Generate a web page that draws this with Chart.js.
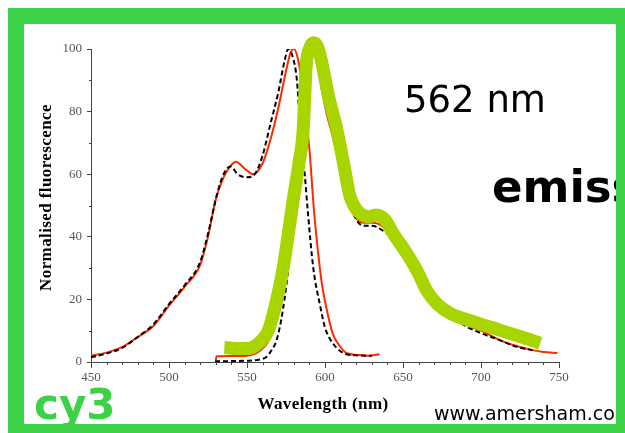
<!DOCTYPE html>
<html lang="en">
<head>
  <meta charset="UTF-8" />
  <title>Cy3 absorption and emission spectra</title>
  <script src="https://cdn.jsdelivr.net/npm/chart.js"></script>
  <style>
    html, body {
      margin: 0;
      padding: 0;
      background: #fff;
    }

    body {
      width: 625px;
      height: 433px;
      overflow: hidden;
      position: relative;
    }

    .frame {
      position: absolute;
      left: 8px;
      top: 8px;
      width: 592px;
      height: 400px;
      border-style: solid;
      border-color: #3cd248;
      border-width: 16px 9px 9px 16px;
      overflow: hidden;
      background: #fff;
    }

    canvas {
      position: absolute;
      left: 0;
      top: 0;
    }

    .note {
      position: absolute;
      font-family: 'DejaVu Sans', sans-serif;
      line-height: 1;
      white-space: nowrap;
    }

    .peak { left: 380px; top: 57px; font-size: 37px; color: #000; }
    .kind { left: 468px; top: 140px; font-size: 45px; font-weight: bold; color: #000; }
    .dye  { left: 10px; top: 360px; font-size: 42px; font-weight: bold; color: #3cd248; }
    .web  { left: 410px; top: 380px; font-size: 19px; color: #000; }
  </style>
</head>
<body>
  <div class="frame">
    <canvas id="spectra" width="592" height="400"></canvas>
    <div class="note peak">562 nm</div>
    <div class="note kind">emission</div>
    <div class="note dye">cy3</div>
    <div class="note web">www.amersham.com</div>
  </div>

  <script>
    // absorption, measured (solid red) and reference (dashed)
    const absWl   = [450, 460, 470, 480, 490, 500, 510, 520, 525, 530, 535, 540, 543, 548, 554, 560, 565, 570, 575, 578, 580, 583, 586, 590, 593, 596, 598, 601, 605, 610, 614, 622, 628, 635];
    const absRed  = [2, 3, 4.8, 8, 11.5, 18, 24, 31, 40, 52, 59, 63, 64, 62, 60, 63.5, 71, 81, 93, 99, 100, 96, 86, 68, 48, 33, 25, 17, 9, 4.8, 2.8, 2.2, 2, 2.5];
    const absDashWl = [450, 460, 470, 480, 490, 500, 510, 520, 525, 531, 535, 539.5, 544, 550, 555, 560, 565, 570, 574, 576.5, 579, 582, 584, 587, 589, 592.5, 597, 600, 605, 612, 618, 630];
    const absDash   = [1.5, 2.7, 4.5, 8, 12, 18.5, 24.5, 32, 41, 54, 60, 62.5, 60, 59, 60, 66, 76, 86, 96, 100, 98, 90, 76, 60, 48, 30, 17.7, 11, 6, 2.8, 2.2, 2];

    // emission, measured (solid red) and reference (dashed)
    const emWl  = [530, 530.5, 540, 550, 555, 558, 563, 567, 570, 573, 576, 578, 580, 582, 585, 588, 590, 593, 595, 597, 601, 605, 610, 615, 620, 625, 630, 635, 640, 648, 652, 660, 670, 680, 690, 700, 712, 720, 733, 740, 749];
    const emRed = [0.5, 1.8, 1.9, 2, 2.6, 3.5, 6, 10, 15, 21, 30, 38, 46, 53, 66, 82, 91, 100, 98, 90, 79.5, 72, 61, 51, 46, 44.5, 44.5, 44, 42, 40, 38, 30, 21, 15.5, 12, 10, 7, 5.5, 3.8, 3.2, 2.9];
    const emDashWl = [529.5, 540, 550, 556, 560, 562.6, 566, 569, 573, 576.5, 579.7, 583, 586, 590, 593.5, 596, 600, 605, 610, 615, 620, 625, 630, 640, 650, 660, 670, 680, 690, 700, 712, 722, 733];
    const emDash   = [0.2, 0.3, 0.4, 0.6, 1, 1.7, 4, 7, 16.6, 30, 46, 62, 78, 92, 100, 95.5, 85, 74, 62, 52, 45.5, 43.5, 43.5, 41, 37, 29, 20, 15, 11.5, 9.2, 7, 5, 3.8];

    // highlighted emission band
    const bandWl = [535.5, 545, 552, 557, 561, 564, 569, 573.3, 576.5, 579.7, 583.3, 586, 587, 588, 590, 592.5, 595, 597.8, 602, 607.5, 611.7, 616, 619, 622.4, 627.8, 633, 638.5, 643.8, 652.4, 659.9, 665, 671.6, 680, 695, 712, 729, 738];
    const band   = [4.6, 4.3, 4.4, 5.8, 7.8, 10.5, 19.8, 30.4, 41, 52, 63.5, 74, 84.8, 95, 100, 102, 101, 96, 85.5, 74.5, 64, 53, 49.6, 47.5, 46.4, 47, 45.4, 41, 34.7, 28.3, 23, 18.7, 15.6, 12.9, 10.2, 7.5, 6];

    const xTicks = [450, 500, 550, 600, 650, 700, 750];
    const yTicks = [0, 20, 40, 60, 80, 100];

    const axisColor = '#444';
    const red = '#ff2a00';

    const toPoints = (xs, ys) => xs.map((x, i) => ({ x: x, y: ys[i] }));

    // minor ticks and the spaced-out serif axis titles
    const axisExtras = {
      id: 'axisExtras',
      afterDraw(chart) {
        const { ctx, chartArea, scales } = chart;
        const x = scales.x, y = scales.y;
        ctx.save();
        ctx.strokeStyle = axisColor;
        ctx.lineWidth = 1;
        ctx.beginPath();
        for (let v = xTicks[0] + 10; v < xTicks[xTicks.length - 1]; v += 10) {
          if (v % 50 === 0) continue;
          const px = Math.round(x.getPixelForValue(v)) + 0.5;
          ctx.moveTo(px, chartArea.bottom);
          ctx.lineTo(px, chartArea.bottom + 3);
        }
        for (let v = 10; v < 100; v += 20) {
          const py = Math.round(y.getPixelForValue(v)) + 0.5;
          ctx.moveTo(chartArea.left, py);
          ctx.lineTo(chartArea.left - 2, py);
        }
        ctx.stroke();

        ctx.fillStyle = '#000';
        ctx.font = 'bold 17px "Liberation Serif"';
        ctx.letterSpacing = '0.4px';
        ctx.textAlign = 'center';
        ctx.textBaseline = 'middle';
        ctx.fillText('Wavelength (nm)', (chartArea.left + chartArea.right) / 2 - 2, chartArea.bottom + 43);
        ctx.translate(chartArea.left - 44.5, (chartArea.top + chartArea.bottom) / 2 - 8);
        ctx.rotate(-Math.PI / 2);
        ctx.fillText('Normalised fluorescence', 0, 0);
        ctx.restore();
      }
    };

    const tickFont = { family: 'Liberation Serif', size: 13 };

    new Chart(document.getElementById('spectra'), {
      type: 'line',
      data: {
        datasets: [
          {
            label: 'Emission band',
            data: toPoints(bandWl, band),
            borderColor: '#a8d400',
            borderWidth: 13,
            borderCapStyle: 'butt',
            borderJoinStyle: 'round',
            cubicInterpolationMode: 'monotone',
            clip: false
          },
          {
            label: 'Absorption (reference)',
            data: toPoints(absDashWl, absDash),
            borderColor: '#000',
            borderWidth: 2,
            borderDash: [5, 3],
            cubicInterpolationMode: 'monotone'
          },
          {
            label: 'Emission (reference)',
            data: toPoints(emDashWl, emDash),
            borderColor: '#000',
            borderWidth: 2,
            borderDash: [5, 3],
            cubicInterpolationMode: 'monotone'
          },
          {
            label: 'Absorption',
            data: toPoints(absWl, absRed),
            borderColor: red,
            borderWidth: 2,
            cubicInterpolationMode: 'monotone'
          },
          {
            label: 'Emission',
            data: toPoints(emWl, emRed),
            borderColor: red,
            borderWidth: 2,
            cubicInterpolationMode: 'monotone'
          }
        ]
      },
      options: {
        responsive: false,
        animation: false,
        events: [],
        elements: {
          point: { radius: 0 }
        },
        layout: {
          padding: { top: 25, right: 57, bottom: 0, left: 0 }
        },
        scales: {
          x: {
            type: 'linear',
            min: 450,
            max: 750,
            afterBuildTicks: (scale) => { scale.ticks = xTicks.map(v => ({ value: v })); },
            afterFit: (scale) => { scale.height = 62; },
            ticks: {
              font: tickFont,
              color: '#555',
              padding: 2,
              maxRotation: 0
            },
            grid: {
              drawOnChartArea: false,
              tickLength: 6,
              color: axisColor
            },
            border: { color: axisColor }
          },
          y: {
            min: 0,
            max: 100,
            afterBuildTicks: (scale) => { scale.ticks = yTicks.map(v => ({ value: v })); },
            afterFit: (scale) => { scale.width = 67; },
            ticks: {
              font: tickFont,
              color: '#555',
              padding: 5
            },
            grid: {
              drawOnChartArea: false,
              tickLength: 4,
              color: axisColor
            },
            border: { color: axisColor }
          }
        },
        plugins: {
          legend: { display: false },
          tooltip: { enabled: false }
        }
      },
      plugins: [axisExtras]
    });
  </script>
</body>
</html>
